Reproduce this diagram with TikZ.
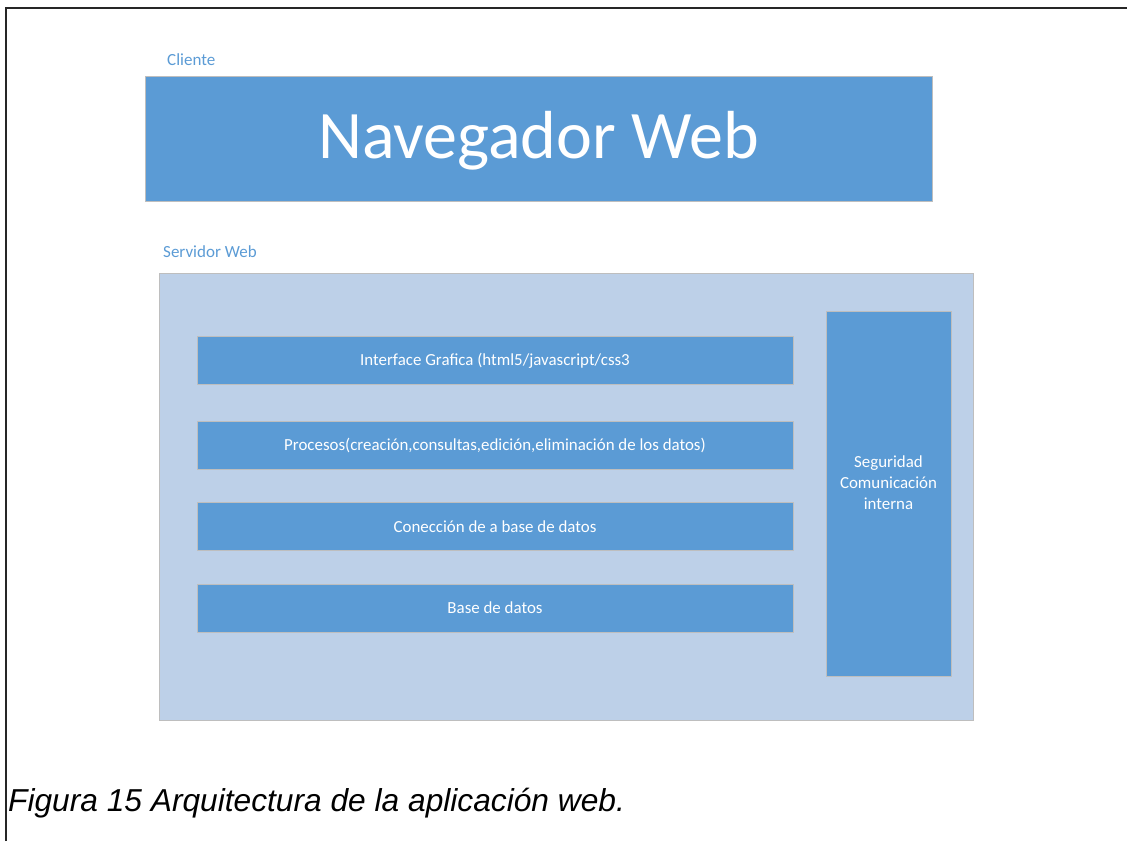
\documentclass[tikz,border=0pt]{standalone}
\usepackage{fontspec}
\setmainfont{Carlito}
\newfontfamily\captionfont{Liberation Sans}
\definecolor{accentblue}{RGB}{91,155,213}
\definecolor{paleblue}{RGB}{189,208,232}
\definecolor{edgegray}{RGB}{190,190,190}
\definecolor{labelblue}{RGB}{91,155,213}
\begin{document}
\begin{tikzpicture}[x=1pt,y=-1pt,
  layerbox/.style={draw=edgegray,line width=0.9pt,fill=accentblue,inner sep=0pt,outer sep=0pt,
    text=white,font=\fontsize{16.9}{21}\selectfont,align=center},
  groupbox/.style={draw=edgegray,line width=0.9pt,fill=paleblue,inner sep=0pt,outer sep=0pt},
  grouplabel/.style={text=labelblue,font=\fontsize{17}{19}\selectfont,anchor=west,inner sep=0pt},
  frameline/.style={line width=1.3pt,draw=black!85}]
  \useasboundingbox (0,0) rectangle (1127,841);

  % page frame edges
  \coordinate (ftl) at (6,8);
  \coordinate (ftr) at (1127,8);
  \coordinate (fbl) at (6,841);
  \draw[frameline] (fbl) -- (ftl) -- (ftr);

  % client tier
  \node[grouplabel] (lblclient) at (167,59.5) {Cliente};
  \node[layerbox,minimum width=787pt,minimum height=125pt] (browser) at (538.5,138.5) {};
  \node[text=white,inner sep=0pt,font=\fontsize{68}{72}\selectfont]
    (browsertext) at ([yshift=-2pt]browser.center) {Navegador Web};

  % server tier
  \node[grouplabel] (lblserver) at (163,251.5) {Servidor Web};
  \node[groupbox,minimum width=814pt,minimum height=447pt] (server) at (566,496.5) {};

  \node[layerbox,minimum width=596pt,minimum height=48pt] (gui) at (495,360.5)
    {Interface Grafica (html5/javascript/css3};
  \node[layerbox,minimum width=596pt,minimum height=48pt] (proc) at (495,445)
    {Procesos(creación,consultas,edición,eliminación de los datos)};
  \node[layerbox,minimum width=596pt,minimum height=48pt] (conn) at (495,526.5)
    {Conección de a base de datos};
  \node[layerbox,minimum width=596pt,minimum height=48pt] (db) at (495,608)
    {Base de datos};

  \node[layerbox,minimum width=125pt,minimum height=365pt] (sec) at (888.5,493.5) {};
  \node[text=white,inner sep=0pt,align=center,font=\fontsize{16.9}{21}\selectfont]
    (sectext) at ([yshift=11pt]sec.center) {Seguridad\\Comunicación\\interna};

  % caption
  \node[anchor=base west,inner sep=0pt,font=\captionfont\itshape\fontsize{31.7}{36}\selectfont]
    (caption) at (8,811) {Figura 15 Arquitectura de la aplicación web.};
\end{tikzpicture}
\end{document}
